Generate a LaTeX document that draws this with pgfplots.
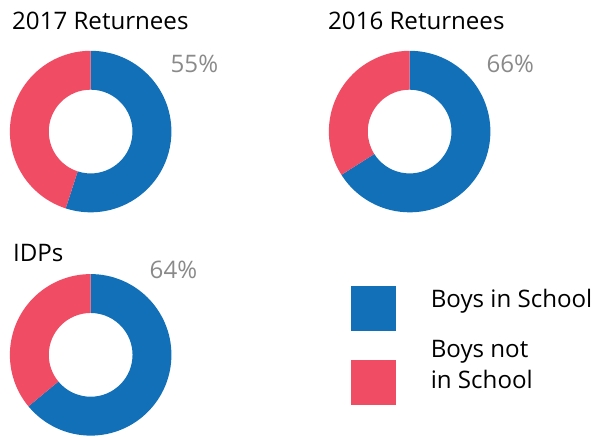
\documentclass[border=0pt]{standalone}
\usepackage{fontspec}
\setmainfont{Open Sans}
\usepackage{pgfplots}
\pgfplotsset{compat=1.18}
\usetikzlibrary{calc}
\definecolor{bluecol}{HTML}{1170B8}
\definecolor{redcol}{HTML}{F04D64}
\definecolor{pctgray}{HTML}{8A8A8A}

% outer / inner radius of each donut (81 px and 42 px at 0.025cm per px)
\def\ro{2.025cm}
\def\ri{1.05cm}

\begin{document}
\begin{tikzpicture}
\begin{axis}[
  x=0.025cm, y=0.025cm,
  xmin=0, xmax=603, ymin=0, ymax=438,
  hide axis, clip=false,
]
\addplot[draw=none] coordinates {(0,0) (603,438)};

% ── 2017 Returnees: 55% in school ─────────────────────────
\fill[bluecol] ($(axis cs:89,306)+(90:\ro)$) arc[start angle=90, end angle={90-3.6*55}, radius=\ro]
  -- ($(axis cs:89,306)+({90-3.6*55}:\ri)$) arc[start angle={90-3.6*55}, end angle=90, radius=\ri] -- cycle;
\fill[redcol] ($(axis cs:89,306)+({90-3.6*55}:\ro)$) arc[start angle={90-3.6*55}, end angle=-270, radius=\ro]
  -- ($(axis cs:89,306)+(-270:\ri)$) arc[start angle=-270, end angle={90-3.6*55}, radius=\ri] -- cycle;

% ── 2016 Returnees: 66% in school ─────────────────────────
\fill[bluecol] ($(axis cs:409,306)+(90:\ro)$) arc[start angle=90, end angle={90-3.6*66}, radius=\ro]
  -- ($(axis cs:409,306)+({90-3.6*66}:\ri)$) arc[start angle={90-3.6*66}, end angle=90, radius=\ri] -- cycle;
\fill[redcol] ($(axis cs:409,306)+({90-3.6*66}:\ro)$) arc[start angle={90-3.6*66}, end angle=-270, radius=\ro]
  -- ($(axis cs:409,306)+(-270:\ri)$) arc[start angle=-270, end angle={90-3.6*66}, radius=\ri] -- cycle;

% ── IDPs: 64% in school ───────────────────────────────────
\fill[bluecol] ($(axis cs:89,82)+(90:\ro)$) arc[start angle=90, end angle={90-3.6*64}, radius=\ro]
  -- ($(axis cs:89,82)+({90-3.6*64}:\ri)$) arc[start angle={90-3.6*64}, end angle=90, radius=\ri] -- cycle;
\fill[redcol] ($(axis cs:89,82)+({90-3.6*64}:\ro)$) arc[start angle={90-3.6*64}, end angle=-270, radius=\ro]
  -- ($(axis cs:89,82)+(-270:\ri)$) arc[start angle=-270, end angle={90-3.6*64}, radius=\ri] -- cycle;

% ── Titles and percentages ────────────────────────────────
\node[anchor=base west, inner sep=0pt, font=\fontsize{17.2}{20}\selectfont] at (axis cs:10,408) {2017 Returnees};
\node[anchor=base west, inner sep=0pt, font=\fontsize{17.2}{20}\selectfont] at (axis cs:327,408) {2016 Returnees};
\node[anchor=base west, inner sep=0pt, font=\fontsize{17.2}{20}\selectfont] at (axis cs:11,176) {IDPs};

\node[anchor=base west, inner sep=0pt, text=pctgray, font=\fontsize{17.2}{20}\selectfont] at (axis cs:169,365) {55\%};
\node[anchor=base west, inner sep=0pt, text=pctgray, font=\fontsize{17.2}{20}\selectfont] at (axis cs:486,365) {66\%};
\node[anchor=base west, inner sep=0pt, text=pctgray, font=\fontsize{17.2}{20}\selectfont] at (axis cs:148,159) {64\%};

% ── Legend ────────────────────────────────────────────────
\fill[bluecol] (axis cs:350,106) rectangle (axis cs:395,151);
\fill[redcol]  (axis cs:350,32)  rectangle (axis cs:395,77);
\node[anchor=base west, inner sep=0pt, font=\fontsize{17.2}{20}\selectfont] at (axis cs:430,130) {Boys in School};
\node[anchor=base west, inner sep=0pt, font=\fontsize{17.2}{20}\selectfont] at (axis cs:430,79) {Boys not};
\node[anchor=base west, inner sep=0pt, font=\fontsize{17.2}{20}\selectfont] at (axis cs:430,48) {in School};
\end{axis}
\end{tikzpicture}
\end{document}
